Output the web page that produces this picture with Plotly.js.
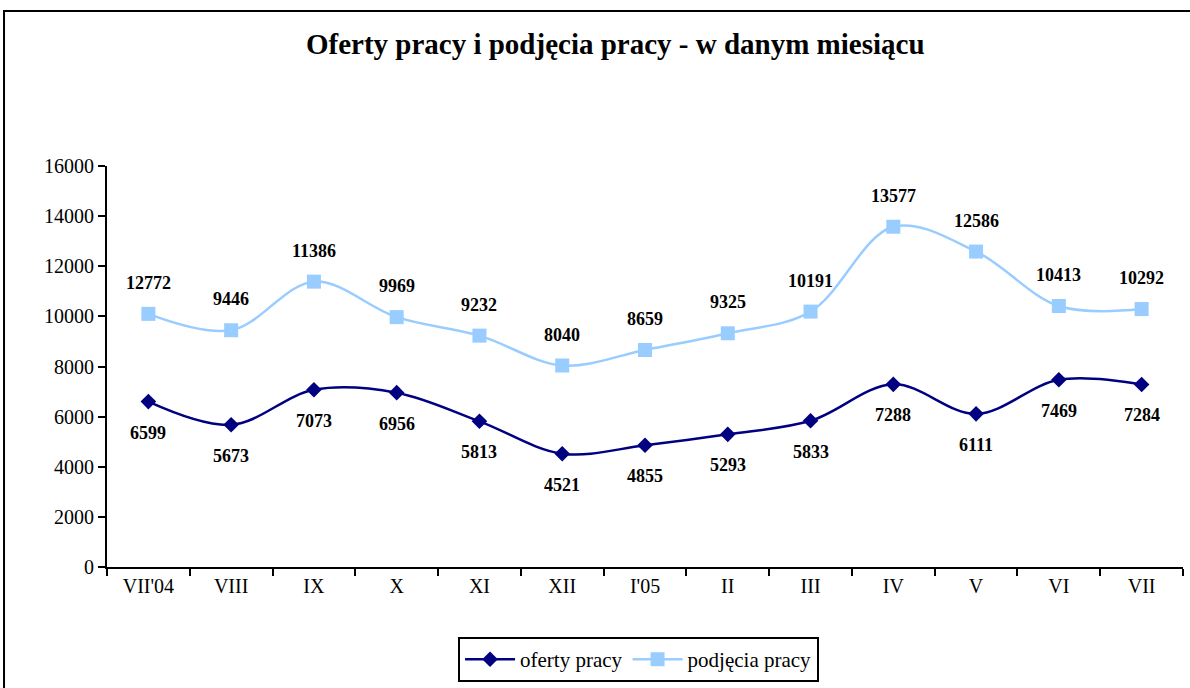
<!DOCTYPE html>
<html>
<head>
<meta charset="utf-8">
<script src="https://cdn.plot.ly/plotly-3.0.1.min.js"></script>
<style>html,body{margin:0;padding:0;background:#fff;}#chart{width:1190px;height:688px;}</style>
</head>
<body>
<div id="chart"></div>
<script>
const months = ["VII'04","VIII","IX","X","XI","XII","I'05","II","III","IV","V","VI","VII"];
const ofertyValues = [6599, 5673, 7073, 6956, 5813, 4521, 4855, 5293, 5833, 7288, 6111, 7469, 7284];
const ofertyLabels = ["6599","5673","7073","6956","5813","4521","4855","5293","5833","7288","6111","7469","7284"];
const podjeciaValues = [10100, 9446, 11386, 9969, 9232, 8040, 8659, 9325, 10191, 13577, 12586, 10413, 10292];
const podjeciaLabels = ["12772","9446","11386","9969","9232","8040","8659","9325","10191","13577","12586","10413","10292"];

const serif = "'Liberation Serif', 'Times New Roman', serif";

const traces = [
  {
    x: months, y: ofertyValues, name: 'oferty pracy', type: 'scatter', mode: 'lines+markers',
    line: {color: '#000080', width: 2.5, shape: 'spline', smoothing: 1},
    marker: {symbol: 'diamond', size: 12, color: '#000080'}
  },
  {
    x: months, y: podjeciaValues, name: 'podjęcia pracy', type: 'scatter', mode: 'lines+markers',
    line: {color: '#99CCFF', width: 2.5, shape: 'spline', smoothing: 1},
    marker: {symbol: 'square', size: 14, color: '#99CCFF'}
  }
];

const annotations = [];
months.forEach((m, i) => {
  annotations.push({x: m, y: podjeciaValues[i], text: podjeciaLabels[i], showarrow: false, yshift: 31,
    font: {family: serif, size: 18, color: '#000', weight: 'bold'}});
  annotations.push({x: m, y: ofertyValues[i], text: ofertyLabels[i], showarrow: false, yshift: -31,
    font: {family: serif, size: 18, color: '#000', weight: 'bold'}});
});

const layout = {
  width: 1190, height: 688,
  margin: {l: 107, r: 7, t: 166, b: 121, autoexpand: false},
  paper_bgcolor: '#fff', plot_bgcolor: '#fff',
  font: {family: serif, size: 20, color: '#000'},
  title: {text: 'Oferty pracy i podjęcia pracy - w danym miesiącu', xref: 'container', yref: 'container',
    x: 0.517, y: 0.936, xanchor: 'center', yanchor: 'middle',
    font: {family: serif, size: 29, color: '#000', weight: 'bold'}},
  xaxis: {type: 'category', range: [-0.5, 12.5], showgrid: false, zeroline: false,
    showline: true, linecolor: '#000', linewidth: 2, ticks: 'outside', tickson: 'boundaries',
    ticklen: 7, tickwidth: 2, tickcolor: '#000', tickfont: {family: serif, size: 20}},
  yaxis: {range: [0, 16000], dtick: 2000, tickformat: 'd', showgrid: false, zeroline: false,
    showline: true, linecolor: '#000', linewidth: 2, ticks: 'outside', ticklen: 7, tickwidth: 2,
    tickcolor: '#000', tickfont: {family: serif, size: 20}},
  showlegend: true,
  legend: {orientation: 'h', x: 0.494, xanchor: 'center', y: -0.287, yanchor: 'bottom', itemwidth: 50,
    bordercolor: '#000', borderwidth: 2, bgcolor: '#fff', font: {family: serif, size: 21}},
  annotations: annotations,
  shapes: [{type: 'path', xref: 'paper', yref: 'paper',
    path: 'M -0.0957 -0.5 L -0.0957 1.3865 L 1.2 1.3865',
    line: {color: '#000', width: 2}}]
};

Plotly.newPlot('chart', traces, layout, {displayModeBar: false, staticPlot: true});
</script>
</body>
</html>
